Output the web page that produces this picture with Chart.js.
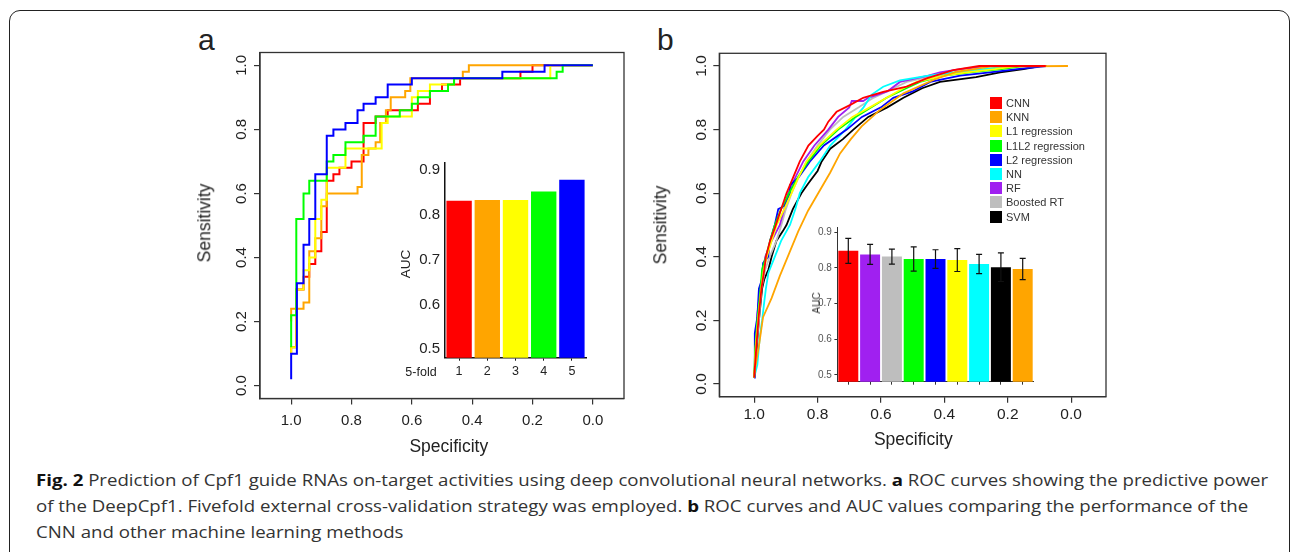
<!DOCTYPE html>
<html>
<head>
<meta charset="utf-8">
<script src="https://cdn.jsdelivr.net/npm/chart.js@4.4.1/dist/chart.umd.min.js"></script>
<style>
  html, body { margin: 0; padding: 0; background: #fff; }
  body { width: 1290px; height: 552px; position: relative; overflow: hidden;
         font-family: "Liberation Sans", Arial, sans-serif; color: #222; }
  .frame { position: absolute; left: 9px; top: 10px; width: 1281px; height: 600px;
           border: 1.5px solid #222; border-radius: 11px; box-sizing: border-box; }
  .box { position: absolute; }
  .txt { position: absolute; white-space: nowrap; transform: translate(-50%, -50%); line-height: 1; }
  .rot { transform: translate(-50%, -50%) rotate(-90deg); }
  .panel { position: absolute; font-size: 30px; line-height: 30px; }
  .legend { position: absolute; left: 990px; top: 96px; font-size: 11px; color: #333; }
  .legend div { position: relative; height: 14.2px; line-height: 14.2px; padding-left: 16px; white-space: nowrap; }
  .legend span { position: absolute; left: 0; top: 1px; width: 12px; height: 12px; }
  .caption { position: absolute; left: 36px; top: 467px; font-family: "Open Sans", sans-serif;
             font-size: 16.5px; line-height: 26px; color: #333; }
  .caption div { white-space: nowrap; transform-origin: left center; }
  .caption b { color: #111; }
</style>
</head>
<body>
<div class="frame"></div>

<div class="panel" style="left:198px; top:25px;">a</div>
<div class="panel" style="left:657px; top:25px;">b</div>

<div class="box" style="left:180px; top:30px; width:460px; height:420px;"><canvas id="rocA" width="460" height="420"></canvas></div>
<div class="box" style="left:395px; top:150px; width:205px; height:235px;"><canvas id="aucA" width="205" height="235"></canvas></div>
<div class="box" style="left:640px; top:30px; width:480px; height:420px;"><canvas id="rocB" width="480" height="420"></canvas></div>
<div class="box" style="left:790px; top:220px; width:260px; height:175px;"><canvas id="aucB" width="260" height="175"></canvas></div>

<div class="txt rot" style="left:204.7px; top:223px; font-size:17.5px;">Sensitivity</div>
<div class="txt" style="left:448.8px; top:446.6px; font-size:17.5px;">Specificity</div>
<div class="txt rot" style="left:661.4px; top:225px; font-size:17.5px;">Sensitivity</div>
<div class="txt" style="left:913.3px; top:440px; font-size:17.5px;">Specificity</div>
<div class="txt rot" style="left:406px; top:264px; font-size:13.5px;">AUC</div>
<div class="txt" style="left:421px; top:372px; font-size:12.5px;">5-fold</div>
<div class="txt rot" style="left:816.5px; top:303px; font-size:10px; color:#333;">AUC</div>

<div class="legend" id="legend"></div>

<div class="caption" id="caption">
  <div><b>Fig. 2</b> Prediction of Cpf1 guide RNAs on-target activities using deep convolutional neural networks. <b>a</b> ROC curves showing the predictive power</div>
  <div>of the DeepCpf1. Fivefold external cross-validation strategy was employed. <b>b</b> ROC curves and AUC values comparing the performance of the</div>
  <div>CNN and other machine learning methods</div>
</div>

<script>
// ---- data (specificity, sensitivity) ----
const rocTicks = [0, 0.2, 0.4, 0.6, 0.8, 1.0];
const aucTicks = [0.5, 0.6, 0.7, 0.8, 0.9];

// panel a: five folds
const fold1 = [[1.0,0.10],[1.0,0.12],[0.983,0.30],[0.959,0.34],[0.94,0.38],[0.92,0.42],[0.90,0.48],[0.882,0.64],[0.86,0.66],[0.84,0.68],[0.80,0.70],[0.76,0.82],[0.72,0.84],[0.68,0.86],[0.58,0.88],[0.54,0.92],[0.50,0.94],[0.44,0.96],[0.24,0.98],[0.20,1.0],[0.0,1.0]];
const fold2 = [[1.0,0.20],[1.0,0.24],[0.959,0.26],[0.94,0.42],[0.92,0.46],[0.90,0.56],[0.882,0.60],[0.78,0.62],[0.766,0.72],[0.744,0.74],[0.72,0.76],[0.705,0.82],[0.686,0.86],[0.67,0.90],[0.622,0.92],[0.605,0.96],[0.431,0.98],[0.411,1.0],[0.0,1.0]];
const fold3 = [[1.0,0.10],[1.0,0.12],[0.983,0.30],[0.959,0.36],[0.94,0.40],[0.92,0.52],[0.90,0.58],[0.882,0.68],[0.82,0.74],[0.70,0.82],[0.68,0.84],[0.60,0.90],[0.58,0.92],[0.54,0.94],[0.46,0.96],[0.141,1.0],[0.0,1.0]];
const fold4 = [[1.0,0.12],[1.0,0.22],[0.983,0.52],[0.959,0.60],[0.94,0.64],[0.882,0.70],[0.86,0.72],[0.82,0.76],[0.76,0.78],[0.72,0.84],[0.64,0.86],[0.60,0.88],[0.58,0.90],[0.54,0.92],[0.48,0.94],[0.46,0.96],[0.12,0.98],[0.10,1.0],[0.0,1.0]];
const fold5 = [[1.0,0.02],[1.0,0.10],[0.981,0.32],[0.959,0.44],[0.94,0.52],[0.92,0.66],[0.882,0.78],[0.86,0.80],[0.82,0.82],[0.78,0.86],[0.76,0.88],[0.72,0.90],[0.68,0.94],[0.60,0.96],[0.30,0.98],[0.16,1.0],[0.0,1.0]];

const foldLabels = ['1', '2', '3', '4', '5'];
const foldAuc = [0.831, 0.833, 0.833, 0.852, 0.878];

// panel b: nine methods
const methodNames = ['CNN', 'KNN', 'L1 regression', 'L1L2 regression', 'L2 regression', 'NN', 'RF', 'Boosted RT', 'SVM'];
const rocCNN = [[1.0,0.02],[0.993,0.12],[0.985,0.22],[0.977,0.30],[0.968,0.36],[0.963,0.40],[0.95,0.45],[0.935,0.49],[0.925,0.52],[0.908,0.57],[0.898,0.60],[0.877,0.65],[0.856,0.70],[0.829,0.75],[0.80,0.78],[0.78,0.80],[0.766,0.825],[0.74,0.856],[0.698,0.877],[0.656,0.90],[0.593,0.919],[0.519,0.935],[0.456,0.961],[0.372,0.987],[0.29,1.0],[0.08,1.0]];
const rocKNN = [[1.0,0.03],[0.985,0.12],[0.972,0.21],[0.945,0.27],[0.919,0.34],[0.89,0.41],[0.861,0.48],[0.83,0.545],[0.798,0.60],[0.76,0.665],[0.729,0.725],[0.695,0.77],[0.661,0.81],[0.603,0.862],[0.529,0.914],[0.435,0.956],[0.361,0.982],[0.256,0.998],[0.01,1.0]];
const rocL1 = [[1.0,0.02],[0.995,0.12],[0.988,0.20],[0.978,0.30],[0.97,0.36],[0.96,0.40],[0.945,0.45],[0.929,0.50],[0.905,0.55],[0.882,0.60],[0.86,0.65],[0.835,0.70],[0.795,0.75],[0.74,0.80],[0.69,0.84],[0.635,0.87],[0.582,0.90],[0.53,0.93],[0.487,0.95],[0.40,0.97],[0.329,0.98],[0.24,0.99],[0.172,1.0],[0.08,1.0]];
const rocL1L2 = [[1.0,0.02],[0.997,0.11],[0.99,0.20],[0.98,0.30],[0.975,0.36],[0.963,0.40],[0.95,0.45],[0.935,0.50],[0.915,0.55],[0.89,0.60],[0.862,0.65],[0.829,0.70],[0.79,0.75],[0.735,0.80],[0.68,0.84],[0.63,0.87],[0.582,0.90],[0.52,0.93],[0.477,0.95],[0.40,0.97],[0.319,0.98],[0.22,0.99],[0.151,1.0],[0.08,1.0]];
const rocL2 = [[1.0,0.02],[0.998,0.16],[0.99,0.21],[0.985,0.30],[0.975,0.33],[0.972,0.38],[0.956,0.40],[0.95,0.45],[0.935,0.50],[0.924,0.55],[0.905,0.56],[0.887,0.60],[0.887,0.625],[0.86,0.65],[0.824,0.70],[0.78,0.75],[0.708,0.80],[0.66,0.84],[0.60,0.87],[0.561,0.90],[0.50,0.92],[0.445,0.95],[0.35,0.97],[0.256,0.98],[0.17,0.99],[0.077,1.0]];
const rocNN = [[1.0,0.02],[0.99,0.06],[0.982,0.15],[0.975,0.20],[0.968,0.26],[0.963,0.30],[0.955,0.35],[0.935,0.40],[0.915,0.45],[0.887,0.50],[0.87,0.55],[0.856,0.60],[0.83,0.65],[0.793,0.70],[0.76,0.75],[0.712,0.80],[0.68,0.84],[0.655,0.87],[0.629,0.91],[0.593,0.935],[0.54,0.955],[0.45,0.97],[0.372,0.98],[0.28,0.99],[0.182,1.0],[0.08,1.0]];
const rocRF = [[1.0,0.02],[0.995,0.10],[0.99,0.22],[0.98,0.30],[0.972,0.36],[0.965,0.40],[0.945,0.45],[0.919,0.50],[0.905,0.55],[0.893,0.60],[0.87,0.65],[0.845,0.70],[0.81,0.75],[0.766,0.80],[0.735,0.84],[0.70,0.87],[0.692,0.89],[0.656,0.89],[0.64,0.90],[0.58,0.92],[0.54,0.95],[0.45,0.97],[0.414,0.98],[0.35,0.99],[0.256,1.0],[0.08,1.0]];
const rocBRT = [[1.0,0.02],[0.995,0.10],[0.985,0.20],[0.977,0.30],[0.965,0.36],[0.951,0.40],[0.93,0.45],[0.914,0.50],[0.90,0.55],[0.882,0.60],[0.86,0.65],[0.835,0.70],[0.80,0.75],[0.761,0.80],[0.719,0.84],[0.67,0.87],[0.624,0.90],[0.56,0.93],[0.519,0.95],[0.43,0.97],[0.361,0.98],[0.25,0.99],[0.203,1.0],[0.08,1.0]];
const rocSVM = [[1.0,0.02],[0.993,0.10],[0.985,0.20],[0.975,0.30],[0.968,0.33],[0.955,0.36],[0.945,0.40],[0.93,0.45],[0.91,0.48],[0.898,0.50],[0.878,0.55],[0.851,0.60],[0.83,0.63],[0.80,0.67],[0.787,0.70],[0.76,0.74],[0.72,0.77],[0.687,0.80],[0.64,0.84],[0.58,0.87],[0.529,0.90],[0.47,0.93],[0.414,0.95],[0.30,0.965],[0.224,0.98],[0.15,0.99],[0.098,1.0]];

const barMethods = ['CNN', 'RF', 'Boosted RT', 'L1L2 regression', 'L2 regression', 'L1 regression', 'NN', 'SVM', 'KNN'];
const barAuc = [0.848, 0.838, 0.832, 0.825, 0.825, 0.822, 0.811, 0.802, 0.797];
const barErr = [0.035, 0.028, 0.021, 0.034, 0.026, 0.032, 0.027, 0.040, 0.030];

// ---- styles ----
const foldColors = ['#ff0000', '#ffa500', '#ffff00', '#00ff00', '#0000ff'];
const methodColors = {
  'CNN': '#ff0000', 'KNN': '#ffa500', 'L1 regression': '#ffff00', 'L1L2 regression': '#00ff00',
  'L2 regression': '#0000ff', 'NN': '#00ffff', 'RF': '#a020f0', 'Boosted RT': '#bebebe', 'SVM': '#000000'
};

Chart.defaults.font.family = '"Liberation Sans", Arial, sans-serif';
Chart.defaults.color = '#222';

const toXY = pts => pts.map(p => ({ x: p[0], y: p[1] }));
const setTicks = vals => scale => { scale.ticks = vals.map(v => ({ value: v })); };
const noPad = size => s => {
  if (s.isHorizontal()) s.height = size; else s.width = size;
  s.paddingTop = 0; s.paddingBottom = 0; s.paddingLeft = 0; s.paddingRight = 0;
};

// box around the plot region (R style)
const boxFrame = {
  id: 'boxFrame',
  afterDraw(chart) {
    const a = chart.chartArea, ctx = chart.ctx;
    ctx.save();
    ctx.strokeStyle = '#333';
    ctx.lineWidth = 1.3;
    ctx.strokeRect(a.left, a.top, a.right - a.left, a.bottom - a.top);
    ctx.restore();
  }
};

// vertical y tick labels, as R draws them
const sideTicks = {
  id: 'sideTicks',
  afterDraw(chart, args, opts) {
    const y = chart.scales.y, ctx = chart.ctx;
    ctx.save();
    ctx.font = opts.font;
    ctx.fillStyle = '#222';
    ctx.textAlign = 'center';
    ctx.textBaseline = 'middle';
    y.ticks.forEach(t => {
      ctx.save();
      ctx.translate(chart.chartArea.left - opts.gap, y.getPixelForValue(t.value));
      ctx.rotate(-Math.PI / 2);
      ctx.fillText(t.value.toFixed(1), 0, 0);
      ctx.restore();
    });
    ctx.restore();
  }
};

const errorBars = {
  id: 'errorBars',
  afterDatasetsDraw(chart) {
    const meta = chart.getDatasetMeta(0), y = chart.scales.y, ctx = chart.ctx;
    ctx.save();
    ctx.strokeStyle = '#111';
    ctx.lineWidth = 1.2;
    meta.data.forEach((bar, i) => {
      const hi = y.getPixelForValue(barAuc[i] + barErr[i]);
      const lo = y.getPixelForValue(barAuc[i] - barErr[i]);
      ctx.beginPath();
      ctx.moveTo(bar.x, hi); ctx.lineTo(bar.x, lo);
      ctx.moveTo(bar.x - 3, hi); ctx.lineTo(bar.x + 3, hi);
      ctx.moveTo(bar.x - 3, lo); ctx.lineTo(bar.x + 3, lo);
      ctx.stroke();
    });
    ctx.restore();
  }
};

function rocOptions(cfg) {
  return {
    responsive: false,
    animation: false,
    devicePixelRatio: 1,
    layout: { padding: cfg.padding },
    plugins: { legend: { display: false }, tooltip: { enabled: false }, sideTicks: { font: cfg.tickFont, gap: cfg.gap } },
    elements: { point: { radius: 0 }, line: { tension: 0 } },
    scales: {
      x: {
        type: 'linear', reverse: true, min: cfg.xmin, max: cfg.xmax,
        afterBuildTicks: setTicks(rocTicks),
        afterFit: noPad(40),
        grid: { drawOnChartArea: false, tickLength: 6, color: '#333', lineWidth: 1.2 },
        border: { color: '#333', width: 1.3 },
        ticks: { font: { size: cfg.tickSize }, padding: cfg.xpad, maxRotation: 0, callback: v => v.toFixed(1), color: '#222' }
      },
      y: {
        type: 'linear', min: -0.04, max: 1.04,
        afterBuildTicks: setTicks(rocTicks),
        afterFit: noPad(cfg.yw),
        grid: { drawOnChartArea: false, tickLength: 6, color: '#333', lineWidth: 1.2 },
        border: { color: '#333', width: 1.3 },
        ticks: { display: false }
      }
    }
  };
}

// panel a ROC
const folds = [fold1, fold2, fold3, fold4, fold5];
new Chart(document.getElementById('rocA'), {
  type: 'line',
  data: {
    datasets: folds.map((f, i) => ({
      data: toXY(f), borderColor: foldColors[i], borderWidth: 2, stepped: 'before', order: 5 - i
    }))
  },
  options: rocOptions({ padding: { left: 0, top: 22.5, right: 16, bottom: 11.5 }, xmin: -0.1033, xmax: 1.1033,
                        tickSize: 15, tickFont: '15px "Liberation Sans", Arial, sans-serif', gap: 18, xpad: 7, yw: 80 }),
  plugins: [boxFrame, sideTicks]
});

// panel a AUC inset
new Chart(document.getElementById('aucA'), {
  type: 'bar',
  data: {
    labels: foldLabels,
    datasets: [{ data: foldAuc, backgroundColor: foldColors, borderWidth: 0, barPercentage: 0.9, categoryPercentage: 1 }]
  },
  options: {
    responsive: false, animation: false, devicePixelRatio: 1,
    layout: { padding: { left: 0, top: 12.7, right: 14, bottom: 0 } },
    plugins: { legend: { display: false }, tooltip: { enabled: false } },
    scales: {
      x: {
        afterFit: noPad(27.3),
        grid: { drawOnChartArea: false, tickLength: 3, color: '#111', offset: false },
        border: { color: '#111', width: 1.5 },
        ticks: { font: { size: 12.5 }, padding: 3, color: '#222' }
      },
      y: {
        min: 0.4813, max: 0.916,
        afterBuildTicks: setTicks(aucTicks),
        afterFit: noPad(50),
        grid: { drawOnChartArea: false, drawTicks: false },
        border: { color: '#111', width: 1.5 },
        ticks: { font: { size: 15 }, padding: 5, color: '#222', callback: v => v.toFixed(1) }
      }
    }
  }
});

// panel b ROC
const rocByMethod = { 'CNN': rocCNN, 'KNN': rocKNN, 'L1 regression': rocL1, 'L1L2 regression': rocL1L2,
  'L2 regression': rocL2, 'NN': rocNN, 'RF': rocRF, 'Boosted RT': rocBRT, 'SVM': rocSVM };
new Chart(document.getElementById('rocB'), {
  type: 'line',
  data: {
    datasets: methodNames.map(m => ({ label: m, data: toXY(rocByMethod[m]), borderColor: methodColors[m], borderWidth: 1.8 }))
  },
  options: rocOptions({ padding: { left: 0, top: 23.3, right: 14, bottom: 13.3 }, xmin: -0.11, xmax: 1.11,
                        tickSize: 15.5, tickFont: '15.5px "Liberation Sans", Arial, sans-serif', gap: 17.6, xpad: 3, yw: 79.3 }),
  plugins: [boxFrame, sideTicks]
});

// panel b AUC inset
new Chart(document.getElementById('aucB'), {
  type: 'bar',
  data: {
    labels: barMethods,
    datasets: [{ data: barAuc, backgroundColor: barMethods.map(m => methodColors[m]), borderWidth: 0,
                 barPercentage: 0.917, categoryPercentage: 1 }]
  },
  options: {
    responsive: false, animation: false, devicePixelRatio: 1,
    layout: { padding: { left: 0, top: 7.3, right: 16.4, bottom: 0 } },
    plugins: { legend: { display: false }, tooltip: { enabled: false } },
    scales: {
      x: {
        afterFit: noPad(13.3),
        grid: { drawOnChartArea: false, tickLength: 3, color: '#333', offset: false },
        border: { color: '#333', width: 1 },
        ticks: { display: false }
      },
      y: {
        min: 0.481, max: 0.914,
        afterBuildTicks: setTicks(aucTicks),
        afterFit: noPad(47.4),
        grid: { drawOnChartArea: false, tickLength: 3, color: '#333' },
        border: { color: '#333', width: 1 },
        ticks: { font: { size: 10 }, padding: 2.5, color: '#555', callback: v => v.toFixed(1) }
      }
    }
  },
  plugins: [errorBars]
});

// legend for panel b
const legend = document.getElementById('legend');
methodNames.forEach(m => {
  const row = document.createElement('div');
  row.innerHTML = `<span style="background:${methodColors[m]}"></span>${m}`;
  legend.appendChild(row);
});

// stretch the caption to the column width of the original
document.fonts.ready.then(() => {
  const lines = document.querySelectorAll('#caption div');
  const w = lines[0].scrollWidth;
  const k = 1232 / w;
  lines.forEach(l => { l.style.transform = `scaleX(${k})`; });
});
</script>
</body>
</html>
